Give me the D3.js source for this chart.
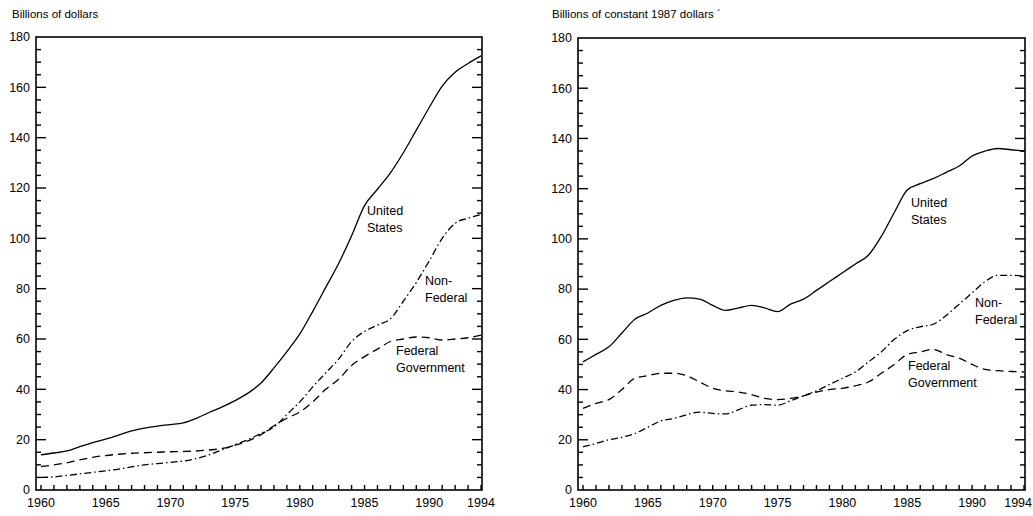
<!DOCTYPE html>
<html>
<head>
<meta charset="utf-8">
<script src="https://cdn.jsdelivr.net/npm/d3@7/dist/d3.min.js"></script>
<style>
  body { margin: 0; background: #fff; }
  svg { display: block; font-family: "Liberation Sans", Arial, sans-serif; }
  .tick-label { font-size: 12.5px; fill: #000; }
  .title { font-size: 11.5px; fill: #000; }
  .series-label { font-size: 12.5px; fill: #000; }
</style>
</head>
<body>
<svg id="chart" width="1033" height="516"></svg>
<script>
"use strict";

const years = d3.range(1960, 1995);

// current dollars
const usCurrent = [14, 14.7, 15.5, 17.2, 18.8, 20.2, 21.8, 23.5, 24.6, 25.4,
    26, 26.7, 28.5, 30.8, 33, 35.5, 38.5, 42.5, 48.5, 55,
    62, 71, 80.5, 90, 101, 113, 119.5, 126, 134, 143,
    152, 160.5, 166, 169.5, 172.5];
const nonFedCurrent = [5, 5.2, 5.8, 6.4, 7, 7.6, 8.3, 9.2, 10, 10.5,
    11, 11.5, 12.5, 14, 16, 18, 20, 22.5, 25, 30,
    35, 41, 46.5, 52, 59, 63, 65.5, 68, 75, 82.5,
    91, 100, 106, 108, 109.5];
const fedCurrent = [9.3, 10, 10.8, 12, 13, 13.7, 14.2, 14.6, 14.8, 15,
    15.2, 15.3, 15.5, 15.9, 16.5, 17.8, 19.5, 22, 25.5, 28.5,
    31, 35, 40, 44, 49.5, 53, 56, 59, 60, 60.8,
    60.5, 59.6, 60, 60.5, 61.5];

// constant 1987 dollars
const usConstant = [51, 54, 57, 62.5, 68, 70.5, 73.5, 75.5, 76.5, 76,
    73.5, 71.5, 72.5, 73.5, 72.5, 71, 74, 76, 79.5, 83,
    86.5, 90, 93.5, 101, 110.5, 119.5, 122, 124, 126.5, 129,
    133, 135, 136, 135.5, 135];
const nonFedConstant = [17.2, 18.5, 20, 21, 22.5, 25, 27.5, 28.5, 30, 31,
    30.5, 30.3, 32, 33.8, 34, 33.8, 35.5, 37.5, 39.5, 42,
    44.5, 47, 51, 55, 60, 63.5, 65, 66, 69.5, 74,
    78.5, 83, 85.5, 85.5, 85.2];
const fedConstant = [32.5, 34.5, 36, 40, 44.5, 45.5, 46.5, 46.5, 45.5, 43,
    40.5, 39.5, 39, 38, 36.5, 36, 36.5, 37.5, 39, 40,
    40.5, 41.5, 43, 46.5, 50, 54, 55, 56, 54, 52.5,
    50, 48, 47.5, 47.2, 47];

const yTickValues = [0, 20, 40, 60, 80, 100, 120, 140, 160, 180];
const xTickLabels = [1960, 1965, 1970, 1975, 1980, 1985, 1990, 1994];

const svg = d3.select("#chart");
const pageWidth = 1033;

const panels = [
    {
        title: "Billions of dollars",
        titleX: 12,
        box: { left: 36, right: 482, top: 37, bottom: 490 },
        xRange: [41, 481],
        series: [
            { values: usCurrent, dash: null },
            { values: nonFedCurrent, dash: "7,3,1.5,3" },
            { values: fedCurrent, dash: "8,5" }
        ],
        labels: [
            { lines: ["United", "States"], x: 367, y: 215 },
            { lines: ["Non-", "Federal"], x: 425, y: 285 },
            { lines: ["Federal", "Government"], x: 396, y: 355 }
        ]
    },
    {
        title: "Billions of constant 1987 dollars \u00b4",
        titleX: 552,
        box: { left: 578, right: 1025, top: 38, bottom: 490 },
        xRange: [583, 1024],
        series: [
            { values: usConstant, dash: null },
            { values: nonFedConstant, dash: "7,3,1.5,3" },
            { values: fedConstant, dash: "8,5" }
        ],
        labels: [
            { lines: ["United", "States"], x: 911, y: 207 },
            { lines: ["Non-", "Federal"], x: 975, y: 307 },
            { lines: ["Federal", "Government"], x: 908, y: 370 }
        ]
    }
];

panels.forEach(drawPanel);

function drawPanel(p) {
    const g = svg.append("g");
    const b = p.box;

    const x = d3.scaleLinear().domain([1960, 1994]).range(p.xRange);
    const y = d3.scaleLinear().domain([0, 180]).range([b.bottom, b.top]);

    g.append("text")
        .attr("class", "title")
        .attr("x", p.titleX)
        .attr("y", 18)
        .text(p.title);

    // frame
    g.append("rect")
        .attr("x", b.left).attr("y", b.top)
        .attr("width", b.right - b.left).attr("height", b.bottom - b.top)
        .attr("fill", "none").attr("stroke", "#000").attr("stroke-width", 1.6);

    // y ticks, both sides, pointing inward
    const minor = d3.range(5, 180, 5);
    minor.forEach(v => {
        const len = v % 20 === 0 ? 10 : 5;
        g.append("line")
            .attr("x1", b.left).attr("x2", b.left + len)
            .attr("y1", y(v)).attr("y2", y(v))
            .attr("stroke", "#000").attr("stroke-width", 1.4);
        g.append("line")
            .attr("x1", b.right).attr("x2", b.right - len)
            .attr("y1", y(v)).attr("y2", y(v))
            .attr("stroke", "#000").attr("stroke-width", 1.4);
    });

    g.selectAll(".ylab")
        .data(yTickValues)
        .join("text")
        .attr("class", "tick-label")
        .attr("x", b.left - 6)
        .attr("y", d => y(d))
        .attr("dy", "0.35em")
        .attr("text-anchor", "end")
        .text(d => d);

    // x ticks, yearly, upward
    years.forEach(yr => {
        g.append("line")
            .attr("x1", x(yr)).attr("x2", x(yr))
            .attr("y1", b.bottom).attr("y2", b.bottom - 5)
            .attr("stroke", "#000").attr("stroke-width", 1.4);
    });

    // keep the last year label inside the page
    g.selectAll(".xlab")
        .data(xTickLabels)
        .join("text")
        .attr("class", "tick-label")
        .attr("x", d => x(d) + 16 > pageWidth ? pageWidth - 1 : x(d))
        .attr("y", 507)
        .attr("text-anchor", d => x(d) + 16 > pageWidth ? "end" : "middle")
        .text(d => d);

    const line = d3.line()
        .x((d, i) => x(years[i]))
        .y(d => y(d))
        .curve(d3.curveMonotoneX);

    p.series.forEach(s => {
        g.append("path")
            .attr("d", line(s.values))
            .attr("fill", "none")
            .attr("stroke", "#000")
            .attr("stroke-width", 1.3)
            .attr("stroke-dasharray", s.dash);
    });

    p.labels.forEach(l => {
        const t = g.append("text")
            .attr("class", "series-label")
            .attr("x", l.x)
            .attr("y", l.y);
        l.lines.forEach((txt, i) => {
            t.append("tspan")
                .attr("x", l.x)
                .attr("dy", i === 0 ? 0 : 17)
                .text(txt);
        });
    });
}
</script>
</body>
</html>
